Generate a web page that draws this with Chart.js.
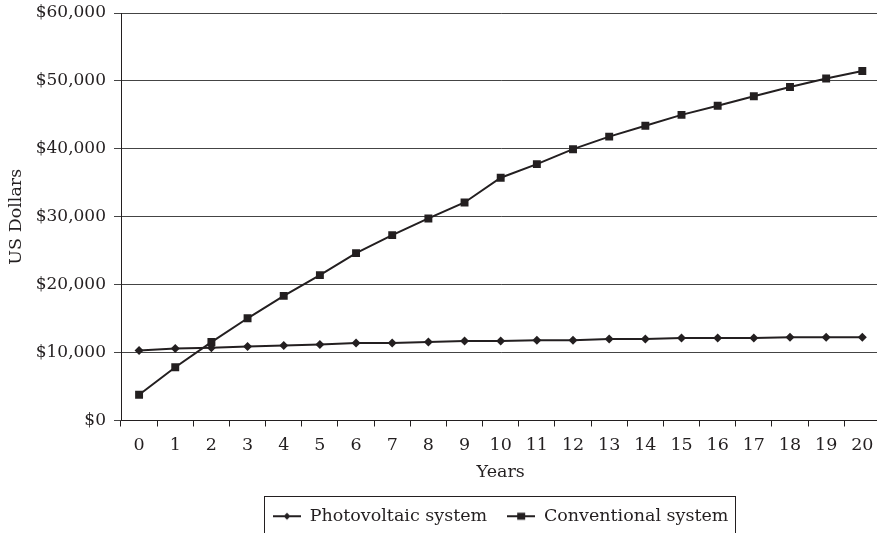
<!DOCTYPE html>
<html><head><meta charset="utf-8">
<script src="https://cdn.jsdelivr.net/npm/chart.js@4.4.1/dist/chart.umd.min.js"></script>
<style>
html,body{margin:0;padding:0;overflow:hidden;background:#fff;width:877px;height:533px}
#wrap{position:relative;width:886px;height:550px}
</style>
</head><body><div id="wrap"><canvas id="c" width="886" height="550"></canvas></div>
<script>
const years = ['0','1','2','3','4','5','6','7','8','9','10','11','12','13','14','15','16','17','18','19','20'];
const photovoltaic = [10300, 10600, 10700, 10900, 11050, 11200, 11400, 11400, 11550, 11700, 11700, 11800, 11800, 12000, 12000, 12150, 12150, 12150, 12250, 12250, 12250];
const conventional = [3800, 7850, 11550, 15050, 18350, 21400, 24650, 27300, 29750, 32100, 35750, 37750, 39950, 41800, 43400, 45000, 46350, 47750, 49100, 50350, 51450];
const yTicks = [0, 10000, 20000, 30000, 40000, 50000, 60000];

const ink = '#231f20';
const FONT = "'DejaVu Serif', 'Liberation Serif', serif";
const FS = 17.5;
Chart.defaults.font.family = FONT;
Chart.defaults.font.size = FS;
Chart.defaults.color = ink;

function makeSym(kind){
  const c = document.createElement('canvas');
  c.width = 28; c.height = 10;
  const g = c.getContext('2d');
  g.strokeStyle = ink; g.fillStyle = ink; g.lineWidth = 2;
  g.beginPath(); g.moveTo(0,5); g.lineTo(28,5); g.stroke();
  if (kind === 'diamond') {
    g.beginPath(); g.moveTo(14,1.5); g.lineTo(17.5,5); g.lineTo(14,8.5); g.lineTo(10.5,5); g.closePath(); g.fill();
  } else {
    g.fillRect(10,1.5,8,7);
  }
  return c;
}
const legendSyms = [makeSym('diamond'), makeSym('square')];

const legendBorder = {
  id: 'legendBorder',
  afterDraw(chart){
    const lg = chart.legend;
    if (!lg || !lg.legendHitBoxes || !lg.legendHitBoxes.length) return;
    const hb = lg.legendHitBoxes;
    const first = hb[0], last = hb[hb.length-1];
    const x0 = Math.round(first.left - 9);
    const x1 = Math.round(last.left + last.width + 7);
    const y0 = Math.round(first.top - 12);
    const ctx = chart.ctx;
    ctx.save();
    ctx.strokeStyle = ink; ctx.lineWidth = 1;
    ctx.strokeRect(x0 + 0.5, y0 + 0.5, x1 - x0, chart.height);
    ctx.restore();
  }
};

new Chart(document.getElementById('c'), {
  type: 'line',
  data: {
    labels: years,
    datasets: [
      { label: 'Photovoltaic system', data: photovoltaic, borderColor: ink, backgroundColor: ink,
        borderWidth: 2, pointStyle: 'rectRot', pointRadius: 4.5, pointBorderWidth: 0, tension: 0 },
      { label: 'Conventional system', data: conventional, borderColor: ink, backgroundColor: ink,
        borderWidth: 2, pointStyle: 'rect', pointRadius: 5.6, pointBorderWidth: 0, tension: 0 }
    ]
  },
  options: {
    responsive: false, animation: false, devicePixelRatio: 1,
    layout: { padding: { top: 13, left: 0, right: 0, bottom: 15 } },
    plugins: {
      tooltip: { enabled: false },
      legend: {
        position: 'bottom', fullSize: false,
        labels: {
          usePointStyle: true, pointStyleWidth: 28, padding: 20,
          font: { size: FS, family: FONT }, color: ink,
          generateLabels(chart){
            const items = Chart.defaults.plugins.legend.labels.generateLabels(chart);
            items.forEach((it, i) => { it.pointStyle = legendSyms[i]; });
            return items;
          }
        }
      }
    },
    scales: {
      x: {
        type: 'category', offset: true,
        grid: { offset: true, drawOnChartArea: false, drawTicks: true, tickLength: 6, color: ink },
        border: { color: ink, width: 1 },
        ticks: { padding: 8, maxRotation: 0, autoSkip: false, color: ink, font: { size: FS } },
        title: { display: true, text: 'Years', color: ink, font: { size: FS }, padding: { top: -2, bottom: 5 } }
      },
      y: {
        min: 0, max: 60000,
        afterBuildTicks(scale){ scale.ticks = yTicks.map(v => ({ value: v })); },
        afterFit(scale){ scale.width = 121; scale.paddingTop = 0; scale.paddingBottom = 0; },
        grid: { color: '#444', lineWidth: 1, drawTicks: true, tickLength: 7 },
        border: { color: ink, width: 1 },
        ticks: { padding: 8, color: ink, font: { size: 17 },
          callback: v => '$' + Number(v).toLocaleString('en-US') },
        title: { display: true, text: 'US Dollars', color: ink, font: { size: FS }, padding: { top: 6, bottom: 0 } }
      }
    }
  },
  plugins: [legendBorder]
});
</script>
</body></html>
